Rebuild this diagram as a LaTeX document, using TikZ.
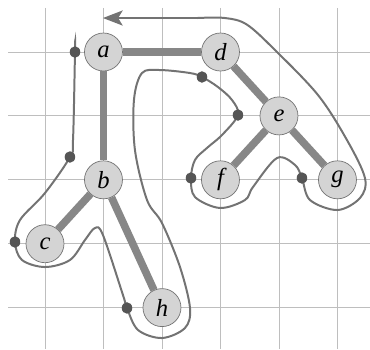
\documentclass[tikz,border=0pt]{standalone}
\usepackage{fontspec}
\setmainfont{Liberation Serif}
\usetikzlibrary{arrows.meta}

\definecolor{gridgray}{RGB}{190,190,190}
\definecolor{edgegray}{RGB}{135,135,135}
\definecolor{nodegray}{RGB}{212,212,212}
\definecolor{tourgray}{RGB}{115,115,115}
\definecolor{dotgray}{RGB}{85,85,85}

\begin{document}
\begin{tikzpicture}[x=1.755cm,y=1.917cm,>=Stealth,
    vert/.style={circle,draw=tourgray,line width=0.6pt,fill=nodegray,minimum size=1.14cm,inner sep=0pt,font=\fontsize{21}{21}\selectfont\itshape},
    treeedge/.style={edgegray,line width=6.5pt},
    tour/.style={tourgray,line width=1.7pt},
    visit/.style={fill=dotgray}]
    \useasboundingbox (-0.769,0.814) rectangle (5.556,-4.648);

    % grid
    \foreach \i in {0,...,5} \draw[gridgray,line width=0.8pt] (\i,0.689) -- (\i,-4.648);
    \foreach \j in {0,...,4} \draw[gridgray,line width=0.8pt] (-0.632,-\j) -- (5.556,-\j);

    % first visits
    \coordinate (va) at (0.513,0);
    \coordinate (vb) at (0.427,-1.643);
    \coordinate (vc) at (-0.513,-2.973);
    \coordinate (vh) at (1.402,-4.006);
    \coordinate (vd) at (2.684,-0.391);
    \coordinate (ve) at (3.299,-0.986);
    \coordinate (vf) at (2.496,-1.972);
    \coordinate (vg) at (4.393,-1.972);

    % euler tour
    \draw[tour] plot[smooth,tension=0.55] coordinates {
        (0.513,0.156) (va) (0.479,-1.377) (vb) (0,-2.207) (-0.427,-2.629) (vc)
        (-0.393,-3.255) (0,-3.365) (0.427,-3.255) (0.684,-2.942) (0.855,-2.754) (0.991,-2.864)
        (1.333,-3.803) (vh) (1.59,-4.35) (2.0,-4.476) (2.393,-4.319) (2.479,-4.006)
        (2.308,-3.365) (2.0,-2.676) (1.744,-2.316) (1.538,-1.534) (1.521,-0.751)
        (1.658,-0.329) (1.966,-0.282) (2.479,-0.329) (vd) (2.957,-0.548) (3.197,-0.751) (ve)
        (3.026,-1.299) (2.769,-1.502) (2.564,-1.690) (vf) (2.564,-2.269) (2.991,-2.441)
        (3.419,-2.316) (3.556,-2.113) (3.966,-1.659) (4.274,-1.768) (vg) (4.530,-2.316)
        (5.0,-2.473) (5.385,-2.285) (5.470,-1.972) (5.162,-1.377) (4.667,-0.673)
        (3.932,0.031) (3.45,0.43) (3.077,0.532) (2.6,0.532)};
    \coordinate (tourend) at (0.991,0.532);
    \coordinate (tourback) at (1.24,0.532);
    \draw[tour] (2.6,0.532) -- (tourback);
    % arrowhead
    \fill[tourgray] (tourend) -- ++(0.34,0.12) -- ++(-0.08,-0.12) -- ++(0.08,-0.12) -- cycle;

    % vertices
    \node[vert] (a) at (1,0) {a};
    \node[vert] (d) at (3,0) {d};
    \node[vert] (e) at (4,-1) {e};
    \node[vert] (b) at (1,-2) {b};
    \node[vert] (f) at (3,-2) {f};
    \node[vert] (g) at (5,-2) {g};
    \node[vert] (c) at (0,-3) {c};
    \node[vert] (h) at (2,-4) {h};

    % tree edges
    \draw[treeedge] (a) -- (d);
    \draw[treeedge] (a) -- (b);
    \draw[treeedge] (d) -- (e);
    \draw[treeedge] (e) -- (f);
    \draw[treeedge] (e) -- (g);
    \draw[treeedge] (b) -- (c);
    \draw[treeedge] (b) -- (h);

    \foreach \v in {va,vb,vc,vh,vd,ve,vf,vg} \fill[visit] (\v) circle (0.09);
\end{tikzpicture}
\end{document}
